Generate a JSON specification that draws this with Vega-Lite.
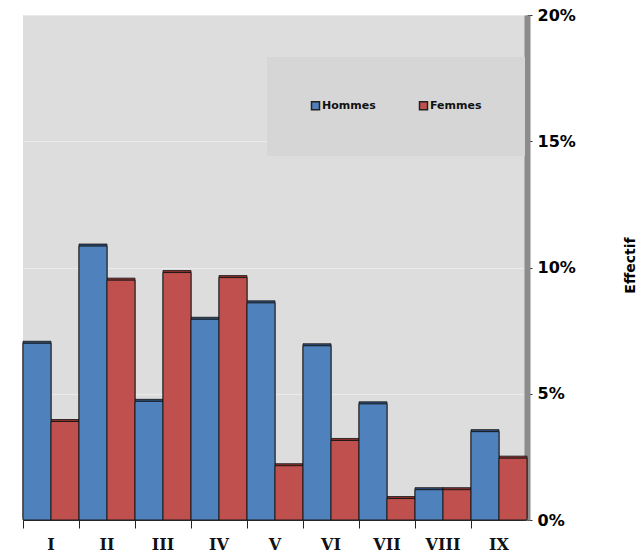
{
  "$schema": "https://vega.github.io/schema/vega-lite/v6.json",
  "width": 504,
  "height": 505,
  "autosize": {"type": "none"},
  "padding": {"left": 23, "top": 15, "right": 114, "bottom": 38},
  "background": "white",
  "config": {
    "view": {"fill": "#dddddd", "stroke": null},
    "legend": {
      "orient": "none",
      "legendX": 244,
      "legendY": 42,
      "direction": "horizontal",
      "fillColor": "#d6d6d6",
      "padding": 43,
      "symbolType": "square",
      "symbolSize": 64,
      "symbolStrokeColor": "#222222",
      "symbolStrokeWidth": 1.5,
      "labelFont": "DejaVu Sans",
      "labelFontWeight": "bold",
      "labelFontSize": 11,
      "labelColor": "#111111",
      "columnPadding": 40,
      "labelOffset": 1
    }
  },
  "data": {
    "values": [
      {"classe": "I", "sexe": "Hommes", "effectif": 0.070},
      {"classe": "I", "sexe": "Femmes", "effectif": 0.039},
      {"classe": "II", "sexe": "Hommes", "effectif": 0.1085},
      {"classe": "II", "sexe": "Femmes", "effectif": 0.095},
      {"classe": "III", "sexe": "Hommes", "effectif": 0.047},
      {"classe": "III", "sexe": "Femmes", "effectif": 0.098},
      {"classe": "IV", "sexe": "Hommes", "effectif": 0.0795},
      {"classe": "IV", "sexe": "Femmes", "effectif": 0.096},
      {"classe": "V", "sexe": "Hommes", "effectif": 0.086},
      {"classe": "V", "sexe": "Femmes", "effectif": 0.0215},
      {"classe": "VI", "sexe": "Hommes", "effectif": 0.069},
      {"classe": "VI", "sexe": "Femmes", "effectif": 0.0315},
      {"classe": "VII", "sexe": "Hommes", "effectif": 0.046},
      {"classe": "VII", "sexe": "Femmes", "effectif": 0.0085},
      {"classe": "VIII", "sexe": "Hommes", "effectif": 0.012},
      {"classe": "VIII", "sexe": "Femmes", "effectif": 0.012},
      {"classe": "IX", "sexe": "Hommes", "effectif": 0.035},
      {"classe": "IX", "sexe": "Femmes", "effectif": 0.0245}
    ]
  },
  "encoding": {
    "x": {
      "field": "classe",
      "type": "nominal",
      "sort": ["I", "II", "III", "IV", "V", "VI", "VII", "VIII", "IX"],
      "scale": {"paddingInner": 0, "paddingOuter": 0},
      "axis": {
        "title": null,
        "labelAngle": 0,
        "labelFont": "DejaVu Serif",
        "labelFontWeight": "bold",
        "labelFontSize": 16,
        "labelColor": "#111111",
        "labelPadding": 8,
        "tickSize": 8,
        "tickColor": "#222222",
        "bandPosition": 0,
        "domainColor": "#333333",
        "grid": false
      }
    },
    "xOffset": {"field": "sexe", "sort": ["Hommes", "Femmes"]},
    "y": {
      "field": "effectif",
      "type": "quantitative",
      "scale": {"domain": [0, 0.2]},
      "axis": {
        "orient": "right",
        "values": [0, 0.05, 0.1, 0.15, 0.2],
        "format": ".0%",
        "labelFont": "DejaVu Sans",
        "labelFontWeight": "bold",
        "labelFontSize": 16,
        "labelColor": "#000000",
        "labelPadding": 5,
        "tickSize": 5,
        "tickColor": "#333333",
        "domainColor": "#8c8c8c",
        "domainWidth": 6,
        "grid": true,
        "gridColor": "#ebebeb",
        "title": "Effectif",
        "titleFont": "DejaVu Sans",
        "titleFontWeight": "bold",
        "titleFontSize": 14,
        "titleColor": "#000000",
        "titleAngle": 270,
        "titleX": 110,
        "titleY": 250
      }
    }
  },
  "layer": [
    {
      "mark": {"type": "bar", "xOffset": -3, "yOffset": -2, "stroke": "#111111", "strokeWidth": 0.8},
      "encoding": {
        "color": {
          "field": "sexe",
          "scale": {"domain": ["Hommes", "Femmes"], "range": ["#2d4f7a", "#8a2f2c"]},
          "legend": null
        }
      }
    },
    {
      "mark": {"type": "bar", "stroke": "#1a1a1a", "strokeWidth": 1},
      "encoding": {
        "color": {
          "field": "sexe",
          "scale": {"domain": ["Hommes", "Femmes"], "range": ["#4f81bd", "#c0504d"]},
          "legend": {"title": null}
        }
      }
    }
  ],
  "resolve": {"scale": {"color": "independent"}, "legend": {"color": "independent"}}
}
